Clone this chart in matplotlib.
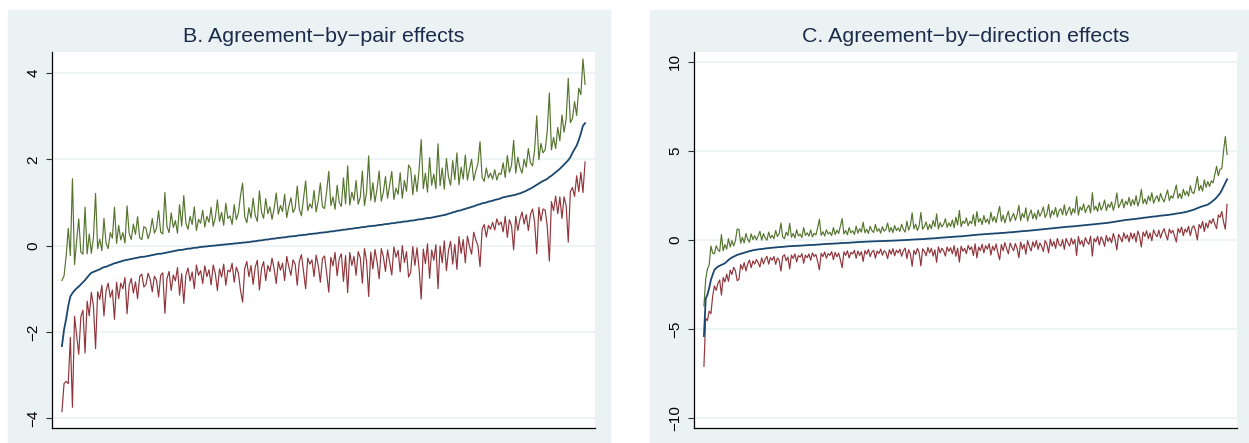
import numpy as np
import matplotlib
matplotlib.use("Agg")
import matplotlib.pyplot as plt
from matplotlib.patches import Rectangle

# panel B: sorted estimates and half-width of the confidence band
pair_est = [
    -2.33, -1.95, -1.70, -1.40, -1.18, -1.10, -1.04, -0.99, -0.95, -0.90,
    -0.85, -0.80, -0.74, -0.68, -0.63, -0.61, -0.59, -0.57, -0.55, -0.52,
    -0.50, -0.49, -0.47, -0.45, -0.43, -0.41, -0.40, -0.38, -0.37, -0.35,
    -0.34, -0.33, -0.32, -0.31, -0.30, -0.29, -0.28, -0.27, -0.26, -0.26,
    -0.25, -0.24, -0.23, -0.22, -0.21, -0.20, -0.19, -0.19, -0.18, -0.17,
    -0.16, -0.15, -0.14, -0.13, -0.12, -0.11, -0.10, -0.10, -0.09, -0.08,
    -0.07, -0.07, -0.06, -0.05, -0.05, -0.04, -0.03, -0.03, -0.02, -0.02,
    -0.01, -0.01, 0.00, 0.00, 0.01, 0.01, 0.02, 0.02, 0.03, 0.03,
    0.04, 0.04, 0.05, 0.05, 0.06, 0.06, 0.07, 0.07, 0.08, 0.08,
    0.09, 0.10, 0.10, 0.11, 0.12, 0.12, 0.13, 0.14, 0.14, 0.15,
    0.16, 0.16, 0.17, 0.18, 0.18, 0.19, 0.19, 0.20, 0.21, 0.21,
    0.22, 0.22, 0.23, 0.24, 0.24, 0.25, 0.25, 0.26, 0.27, 0.27,
    0.28, 0.28, 0.29, 0.30, 0.30, 0.31, 0.31, 0.32, 0.33, 0.33,
    0.34, 0.35, 0.35, 0.36, 0.37, 0.37, 0.38, 0.39, 0.39, 0.40,
    0.41, 0.41, 0.42, 0.43, 0.43, 0.44, 0.45, 0.45, 0.46, 0.46,
    0.47, 0.48, 0.48, 0.49, 0.50, 0.50, 0.51, 0.52, 0.52, 0.53,
    0.54, 0.54, 0.55, 0.56, 0.56, 0.57, 0.58, 0.58, 0.59, 0.60,
    0.61, 0.61, 0.62, 0.63, 0.64, 0.64, 0.65, 0.66, 0.67, 0.68,
    0.69, 0.70, 0.71, 0.72, 0.74, 0.75, 0.77, 0.78, 0.80, 0.81,
    0.82, 0.84, 0.85, 0.87, 0.88, 0.90, 0.91, 0.93, 0.95, 0.96,
    0.98, 0.99, 1.00, 1.02, 1.03, 1.04, 1.06, 1.07, 1.08, 1.10,
    1.12, 1.13, 1.14, 1.15, 1.16, 1.17, 1.18, 1.20, 1.21, 1.23,
    1.25, 1.27, 1.30, 1.32, 1.35, 1.38, 1.41, 1.44, 1.47, 1.50,
    1.52, 1.55, 1.59, 1.62, 1.66, 1.70, 1.74, 1.78, 1.83, 1.88,
    1.93, 1.98, 2.05, 2.15, 2.24, 2.32, 2.45, 2.60, 2.78, 2.84,
]
pair_hw = [
    1.52, 1.25, 1.45, 1.80, 0.95, 2.65, 0.60, 1.10, 1.57, 0.75,
    0.65, 1.69, 0.55, 0.95, 0.45, 0.80, 1.80, 0.50, 0.70, 0.40,
    1.13, 0.55, 0.40, 0.75, 0.60, 1.30, 0.45, 0.85, 0.50, 0.65,
    0.40, 1.25, 0.60, 0.45, 0.80, 0.55, 0.95, 0.45, 0.40, 0.70,
    0.65, 0.40, 0.55, 0.85, 0.50, 0.60, 1.00, 0.50, 0.45, 1.40,
    0.60, 0.45, 0.90, 0.55, 0.70, 0.40, 1.05, 0.55, 1.25, 0.60,
    0.45, 0.75, 0.55, 0.95, 0.40, 0.65, 0.55, 0.85, 0.45, 0.70,
    0.55, 0.90, 0.45, 0.65, 1.05, 0.55, 0.75, 0.45, 0.95, 0.60,
    0.65, 0.45, 0.90, 0.55, 0.70, 1.10, 1.38, 0.60, 0.45, 0.80,
    0.55, 1.00, 0.60, 0.45, 1.15, 0.65, 0.50, 0.95, 0.60, 0.75,
    0.45, 0.70, 1.05, 0.55, 0.75, 0.60, 1.00, 0.45, 0.70, 0.90,
    0.55, 0.65, 1.15, 0.60, 0.45, 0.85, 1.25, 0.55, 0.70, 0.60,
    1.00, 0.50, 0.75, 1.15, 0.60, 0.55, 0.95, 1.40, 0.60, 0.80,
    0.50, 1.05, 0.65, 0.55, 1.20, 0.60, 1.47, 0.55, 0.85, 0.65,
    1.10, 0.55, 0.70, 1.30, 0.50, 0.80, 1.63, 0.60, 1.00, 0.55,
    0.85, 1.25, 0.55, 0.75, 1.10, 0.60, 0.90, 1.20, 0.55, 0.80,
    0.65, 1.15, 0.55, 0.95, 0.70, 1.30, 1.20, 0.60, 1.05, 0.65,
    1.15, 1.85, 0.70, 1.05, 0.60, 1.40, 0.75, 1.00, 0.65, 1.68,
    0.70, 1.10, 0.60, 1.30, 0.85, 0.65, 1.20, 0.75, 1.35, 0.60,
    1.00, 0.70, 1.25, 0.65, 0.90, 1.10, 0.60, 0.80, 0.95, 1.45,
    0.60, 0.50, 0.80, 0.55, 0.65, 0.50, 0.70, 0.45, 0.60, 0.55,
    0.80, 0.45, 0.95, 0.55, 0.70, 1.27, 0.50, 0.85, 0.60, 0.45,
    0.75, 0.55, 0.95, 0.60, 0.50, 0.85, 1.60, 0.55, 0.90, 0.65,
    0.70, 1.10, 1.95, 0.60, 0.85, 0.55, 1.00, 0.65, 1.20, 0.75,
    1.00, 1.90, 0.80, 0.80, 1.10, 0.70, 1.20, 0.90, 1.55, 0.90,
]

# panel C
dir_est = [
    -5.40, -3.30, -3.08, -2.70, -2.24, -1.95, -1.68, -1.58, -1.50, -1.45,
    -1.40, -1.36, -1.31, -1.22, -1.13, -1.05, -0.99, -0.94, -0.89, -0.84,
    -0.81, -0.78, -0.75, -0.72, -0.69, -0.66, -0.63, -0.61, -0.58, -0.56,
    -0.55, -0.53, -0.52, -0.51, -0.50, -0.48, -0.47, -0.46, -0.45, -0.44,
    -0.43, -0.42, -0.41, -0.40, -0.40, -0.39, -0.38, -0.37, -0.36, -0.35,
    -0.35, -0.34, -0.34, -0.33, -0.33, -0.32, -0.32, -0.31, -0.30, -0.30,
    -0.29, -0.29, -0.28, -0.28, -0.27, -0.26, -0.26, -0.25, -0.24, -0.23,
    -0.23, -0.22, -0.22, -0.21, -0.21, -0.20, -0.20, -0.19, -0.18, -0.18,
    -0.17, -0.17, -0.16, -0.16, -0.15, -0.14, -0.14, -0.13, -0.12, -0.12,
    -0.11, -0.11, -0.10, -0.10, -0.09, -0.09, -0.08, -0.08, -0.08, -0.07,
    -0.07, -0.07, -0.06, -0.06, -0.06, -0.05, -0.05, -0.05, -0.04, -0.04,
    -0.03, -0.03, -0.02, -0.02, -0.01, -0.01, 0.00, 0.00, 0.01, 0.02,
    0.02, 0.03, 0.03, 0.04, 0.04, 0.05, 0.05, 0.06, 0.07, 0.07,
    0.08, 0.09, 0.09, 0.10, 0.11, 0.12, 0.13, 0.13, 0.14, 0.15,
    0.16, 0.16, 0.17, 0.18, 0.18, 0.19, 0.20, 0.20, 0.21, 0.22,
    0.23, 0.24, 0.25, 0.26, 0.27, 0.28, 0.29, 0.30, 0.30, 0.31,
    0.32, 0.33, 0.33, 0.34, 0.35, 0.35, 0.36, 0.37, 0.37, 0.38,
    0.39, 0.39, 0.40, 0.41, 0.42, 0.43, 0.43, 0.44, 0.45, 0.46,
    0.47, 0.48, 0.49, 0.50, 0.50, 0.51, 0.52, 0.53, 0.54, 0.55,
    0.56, 0.57, 0.58, 0.59, 0.60, 0.61, 0.62, 0.63, 0.64, 0.65,
    0.66, 0.67, 0.68, 0.69, 0.70, 0.71, 0.72, 0.73, 0.74, 0.75,
    0.75, 0.76, 0.77, 0.78, 0.79, 0.80, 0.81, 0.82, 0.83, 0.84,
    0.85, 0.86, 0.87, 0.88, 0.89, 0.90, 0.91, 0.92, 0.93, 0.94,
    0.95, 0.96, 0.98, 0.99, 1.01, 1.02, 1.04, 1.06, 1.07, 1.09,
    1.10, 1.12, 1.13, 1.14, 1.15, 1.16, 1.17, 1.18, 1.20, 1.21,
    1.22, 1.24, 1.25, 1.26, 1.27, 1.29, 1.30, 1.31, 1.32, 1.33,
    1.35, 1.36, 1.37, 1.38, 1.39, 1.40, 1.41, 1.43, 1.44, 1.46,
    1.48, 1.49, 1.51, 1.52, 1.54, 1.56, 1.58, 1.61, 1.64, 1.67,
    1.70, 1.74, 1.78, 1.82, 1.86, 1.89, 1.92, 1.95, 1.98, 2.05,
    2.12, 2.20, 2.28, 2.38, 2.50, 2.62, 2.80, 3.00, 3.20, 3.40,
]
dir_hw = [
    1.70, 1.10, 1.45, 1.30, 1.90, 1.20, 0.90, 1.25, 0.95, 0.80,
    1.70, 0.75, 1.05, 0.70, 1.20, 0.65, 0.95, 0.60, 0.85, 1.45,
    1.40, 0.60, 0.90, 0.55, 1.05, 0.70, 0.50, 0.95, 0.60, 0.80,
    0.55, 0.75, 1.00, 0.50, 0.85, 0.60, 0.45, 0.90, 0.55, 0.70,
    0.50, 0.95, 0.60, 0.75, 1.35, 0.55, 0.45, 0.80, 0.60, 1.28,
    0.50, 0.70, 0.45, 0.90, 0.55, 0.65, 0.45, 1.00, 0.55, 0.70,
    0.50, 0.85, 0.45, 0.65, 0.55, 0.95, 1.42, 0.50, 0.70, 0.45,
    0.80, 0.55, 0.65, 0.45, 0.90, 0.50, 0.75, 0.55, 0.95, 1.38,
    0.50, 0.70, 0.45, 0.85, 0.55, 0.65, 0.45, 0.90, 0.50, 0.75,
    0.55, 1.10, 0.50, 0.70, 0.45, 0.85, 0.60, 0.50, 0.95, 0.55,
    0.70, 0.45, 0.80, 0.55, 0.65, 1.00, 0.50, 0.75, 0.45, 0.85,
    0.55, 0.70, 0.50, 0.90, 0.60, 0.45, 1.05, 0.55, 0.80, 1.50,
    0.60, 0.85, 0.50, 0.75, 1.50, 0.55, 0.70, 0.95, 0.50, 0.80,
    0.55, 1.00, 0.65, 1.36, 0.50, 0.85, 0.60, 0.75, 1.05, 0.55,
    0.80, 0.60, 0.95, 0.50, 1.10, 0.65, 1.45, 0.55, 0.85, 0.70,
    1.00, 0.55, 0.80, 0.65, 1.15, 0.50, 1.30, 0.70, 0.90, 0.55,
    1.05, 0.65, 0.85, 0.55, 1.20, 0.70, 0.95, 0.60, 1.10, 1.50,
    0.65, 1.00, 0.55, 0.90, 1.20, 0.60, 0.85, 1.05, 0.65, 0.95,
    1.47, 0.60, 1.00, 0.75, 1.30, 0.55, 0.90, 1.15, 0.65, 0.95,
    0.60, 1.10, 0.75, 0.95, 1.25, 0.65, 0.85, 1.36, 0.60, 1.00,
    0.75, 1.15, 0.60, 0.95, 1.05, 0.70, 1.25, 0.65, 0.90, 1.10,
    0.65, 1.00, 0.75, 1.66, 0.60, 1.05, 0.85, 1.20, 0.70, 0.95,
    1.10, 0.65, 1.78, 0.80, 1.00, 0.70, 1.20, 0.75, 0.95, 1.30,
    0.70, 1.05, 0.85, 1.15, 0.65, 1.00, 1.60, 0.75, 0.95, 1.20,
    0.70, 1.05, 0.85, 1.25, 0.75, 1.10, 0.80, 1.30, 0.70, 1.00,
    1.62, 0.80, 1.05, 0.75, 1.20, 0.90, 1.35, 0.75, 1.00, 1.15,
    0.80, 1.25, 0.95, 0.75, 1.10, 1.40, 0.80, 1.05, 0.90, 1.25,
    1.60, 0.85, 1.10, 0.80, 1.30, 0.95, 1.15, 0.85, 1.40, 1.00,
    0.90, 1.25, 1.78, 0.95, 1.20, 0.85, 1.45, 1.00, 1.30, 0.95,
    1.20, 1.00, 1.40, 1.75, 1.10, 1.35, 1.20, 2.00, 2.60, 1.40,
]

titles = ["B. Agreement\u2212by\u2212pair effects",
          "C. Agreement\u2212by\u2212direction effects"]
pair_ticks = [-4, -2, 0, 2, 4]
dir_ticks = [-10, -5, 0, 5, 10]

BG = "#eaf2f3"
NAVY = "#1a476f"
MAROON = "#90353b"
GREEN = "#55752f"

plt.rcParams["font.family"] = ["Liberation Sans", "DejaVu Sans"]

W, H = 1249, 443
fig = plt.figure(figsize=(W / 100, H / 100), dpi=100)

# light panel backgrounds (pixel coords from top-left)
for x0, x1 in [(8, 610), (650, 1249)]:
    fig.patches.append(Rectangle((x0 / W, 0), (x1 - x0) / W, (H - 10) / H,
                                 transform=fig.transFigure, color=BG, zorder=-5))

panels = [
    (52, pair_est, pair_hw, pair_ticks, (-4.23, 4.49), titles[0]),
    (694, dir_est, dir_hw, dir_ticks, (-10.56, 10.55), titles[1]),
]

for left, est, hw, ticks, ylim, title in panels:
    ax = fig.add_axes([left / W, (H - 428) / H, 543 / W, 376 / H])
    ax.set_zorder(2)
    ax.set_facecolor("white")
    est = np.array(est)
    hw = np.array(hw)
    x = np.arange(len(est))
    ax.plot(x, est + hw, color=GREEN, lw=0.85, zorder=3)
    ax.plot(x, est - hw, color=MAROON, lw=0.85, zorder=3)
    ax.plot(x, est, color=NAVY, lw=1.3, zorder=4)

    n = len(est)
    pad = 0.019 * (n - 1)
    ax.set_xlim(-pad, n - 1 + pad)
    ax.set_ylim(*ylim)
    ax.set_xticks([])
    ax.set_yticks(ticks)
    ax.yaxis.grid(True, color=BG, lw=1.2)
    ax.set_axisbelow(True)
    for s in ["top", "right"]:
        ax.spines[s].set_visible(False)
    for s in ["left", "bottom"]:
        ax.spines[s].set_color("black")
        ax.spines[s].set_linewidth(0.9)
    ax.tick_params(axis="y", length=4.5, width=0.8, color="#333333",
                   labelsize=11, pad=4, labelrotation=90)
    for lab in ax.get_yticklabels():
        lab.set_va("center")

    cx = (left + 543 / 2) / W
    fig.text(cx, 1 - 37 / H, title, ha="center", va="center",
             fontsize=15.4, color="#1c2b4b")

fig.savefig("out.png", dpi=100)
